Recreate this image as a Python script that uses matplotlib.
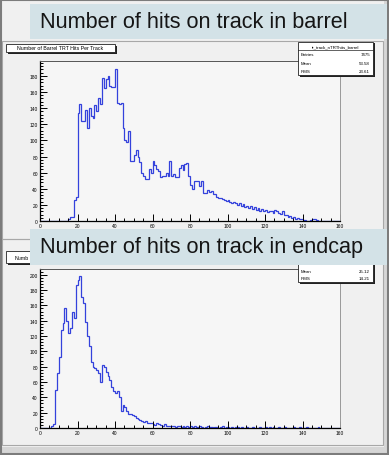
import matplotlib
matplotlib.use("Agg")
import matplotlib.pyplot as plt
from matplotlib.patches import Rectangle
from matplotlib.ticker import MultipleLocator
import numpy as np

W, H = 389, 456

# Histogram contents, one entry per unit-wide bin starting at the given bin
barrel_start = 15
barrel_counts = [
    2, 5, 5, 26, 30, 134, 145, 124, 124, 138,
    115, 140, 130, 128, 144, 136, 152, 145, 178, 165,
    176, 180, 168, 166, 166, 189, 146, 145, 147, 115,
    101, 98, 112, 74, 74, 82, 88, 80, 73, 59,
    56, 52, 52, 64, 60, 74, 70, 64, 62, 54,
    56, 56, 59, 56, 75, 56, 58, 54, 54, 66,
    70, 63, 71, 72, 56, 45, 40, 50, 50, 50,
    44, 50, 35, 35, 38, 36, 37, 34, 33, 30,
    28, 28, 27, 26, 25, 26, 24, 22, 23, 22,
    20, 22, 19, 21, 17, 18, 16, 19, 15, 17,
    14, 16, 12, 15, 13, 14, 11, 13, 12, 10,
    14, 12, 10, 9, 13, 8, 7, 5, 6, 4,
    5, 3, 4, 2, 3, 1, 1, 0, 0, 1,
    2, 2, 1,
]

endcap_start = 6
endcap_counts = [
    2, 5, 49, 72, 92, 128, 137, 156, 140, 124,
    130, 152, 144, 186, 193, 198, 171, 163, 138, 120,
    107, 86, 80, 78, 76, 72, 60, 82, 79, 73,
    68, 62, 54, 48, 46, 48, 40, 22, 30, 28,
    22, 18, 18, 17, 16, 13, 12, 10, 9, 8,
    9, 7, 6, 7, 5, 4, 6, 5, 4, 3,
    5, 3, 2, 3, 2, 3, 1, 2, 2, 1,
    3, 1, 2, 1, 2, 1, 3, 1, 1, 2,
    1, 0, 1, 2, 1, 1, 0, 1, 1, 0,
    1, 2, 0, 1, 1, 0, 1, 0, 1, 1,
    0, 1, 0, 0, 1, 0, 0, 1, 0, 0,
    0, 1, 0, 0, 1, 0, 1, 0, 1, 0,
    0, 1, 0, 0, 1, 0, 0, 0, 0, 1,
    0, 0, 1, 0, 0, 0, 1, 0, 0, 0,
    0, 0, 1,
]

banner_texts = ["Number of hits on track in barrel", "Number of hits on track in endcap"]
# the lower title box is mostly covered by the banner, only its start shows
hist_titles = ["Number of Barrel TRT Hits Per Track", "Numb"]
stat_names = ["tr_track_nTRThits_barrel", ""]
stat_labels = [["Entries", "Mean", "RMS"], ["", "Mean", "RMS"]]
stat_values = [["7475", "53.58", "23.61"], ["", "25.12", "14.21"]]

nbins = 160
edges = np.arange(nbins + 1)

ROOT_FONT = "Liberation Sans"
LINE_BLUE = "#3442dc"
BANNER = "#d3e2e7"


def frac(x0, y0, x1, y1):
    """Pixel box (top-left origin) to figure fraction rect."""
    return [x0 / W, 1 - y1 / H, (x1 - x0) / W, (y1 - y0) / H]


def rect(fig, x0, y0, x1, y1, **kw):
    l, b, w, h = frac(x0, y0, x1, y1)
    fig.patches.append(Rectangle((l, b), w, h, transform=fig.transFigure, **kw))


def full_hist(start, counts):
    h = np.zeros(nbins)
    h[start:start + len(counts)] = counts
    return h


fig = plt.figure(figsize=(W / 100, H / 100), dpi=100)
fig.patch.set_facecolor("#f0f0f0")

# Canvas borders
rect(fig, 0, 448, W, H, facecolor="#d6d6d6", edgecolor="none", zorder=0)
rect(fig, 384, 0, W, H, facecolor="#d6d6d6", edgecolor="none", zorder=0)
rect(fig, 1, 1, W - 1, H - 1, facecolor="none", edgecolor="#7c7c7c", lw=1.5, zorder=5)
rect(fig, 2, 42, 383, 240, facecolor="none", edgecolor="#a8a8a8", lw=0.8, zorder=1)
rect(fig, 2, 240, 383, 446, facecolor="none", edgecolor="#a8a8a8", lw=0.8, zorder=1)

panels = [
    dict(hist=full_hist(barrel_start, barrel_counts), ax=(40, 62, 340, 222), ymax=198.5,
         title=(6, 45, 115, 53), stats=(298, 43, 373, 76), banner=(30, 5, 387, 40)),
    dict(hist=full_hist(endcap_start, endcap_counts), ax=(40, 269.6, 340, 429), ymax=208,
         title=(6, 252, 115, 264), stats=(298, 254, 373, 283), banner=(30, 230, 387, 266)),
]

for i, p in enumerate(panels):
    ax = fig.add_axes(frac(*p["ax"]))
    ax.set_facecolor("#f6f6f6")
    ax.stairs(p["hist"], edges, color=LINE_BLUE, lw=0.9)
    ax.set_xlim(0, 160)
    ax.set_ylim(0, p["ymax"])
    ax.xaxis.set_major_locator(MultipleLocator(20))
    ax.xaxis.set_minor_locator(MultipleLocator(5))
    ax.yaxis.set_major_locator(MultipleLocator(20))
    ax.yaxis.set_minor_locator(MultipleLocator(4))
    ax.tick_params(which="both", direction="in", width=0.7, labelsize=3.5, pad=1.5)
    ax.tick_params(which="major", length=5)
    ax.tick_params(which="minor", length=2.5)
    for lab in ax.get_xticklabels() + ax.get_yticklabels():
        lab.set_fontfamily(ROOT_FONT)
    for side in ("left", "bottom"):
        ax.spines[side].set_linewidth(0.9)
    ax.spines["top"].set_color("#555555")
    ax.spines["right"].set_color("#999999")
    for side in ("top", "right"):
        ax.spines[side].set_linewidth(0.7)

    bx0, by0, bx1, by1 = p["banner"]

    # Histogram title box with shadow
    x0, y0, x1, y1 = p["title"]
    rect(fig, x0 + 1.5, y0 + 1.5, x1 + 1.5, y1 + 1.5, facecolor="#222222", edgecolor="none", zorder=3)
    rect(fig, x0, y0, x1, y1, facecolor="white", edgecolor="#222222", lw=0.6, zorder=3)
    if i == 0:
        fig.text((x0 + x1) / 2 / W, 1 - (y0 + y1) / 2 / H, hist_titles[i], fontsize=3.8,
                 family=ROOT_FONT, ha="center", va="center", zorder=4)
    else:
        fig.text(14.5 / W, 1 - (y0 + y1) / 2 / H, hist_titles[i], fontsize=3.8,
                 family=ROOT_FONT, ha="left", va="center", zorder=4)

    # Statistics box
    x0, y0, x1, y1 = p["stats"]
    rect(fig, x0 + 1.5, y0 + 1.5, x1 + 1.5, y1 + 1.5, facecolor="#222222", edgecolor="none", zorder=3)
    rect(fig, x0, y0, x1, y1, facecolor="white", edgecolor="#222222", lw=0.6, zorder=3)
    row_h = (y1 - y0) / 4.0
    if stat_names[i]:
        fig.lines.append(plt.Line2D([x0 / W, x1 / W], [1 - (y0 + row_h) / H] * 2,
                                    transform=fig.transFigure, color="#222222", lw=0.5, zorder=4))
        fig.text((x0 + x1) / 2 / W, 1 - (y0 + row_h / 2) / H, stat_names[i], fontsize=3.2,
                 family=ROOT_FONT, ha="center", va="center", zorder=4)
    for k, (lab, val) in enumerate(zip(stat_labels[i], stat_values[i])):
        if not lab:
            continue
        yc = 1 - (y0 + row_h * (k + 1.5)) / H
        fig.text((x0 + 3) / W, yc, lab, fontsize=3.2, family=ROOT_FONT, va="center", zorder=4)
        fig.text((x1 - 3) / W, yc, val, fontsize=3.2, family=ROOT_FONT, va="center",
                 ha="right", zorder=4)

    # Slide banner on top
    rect(fig, bx0, by0, bx1, by1, facecolor=BANNER, edgecolor="none", zorder=6)
    fig.text(40 / W, 1 - (by0 + by1) / 2 / H, banner_texts[i], fontsize=15.6,
             family=ROOT_FONT, color="#151515", va="center", ha="left", zorder=7)

fig.savefig("out.png", dpi=100, facecolor=fig.get_facecolor())
